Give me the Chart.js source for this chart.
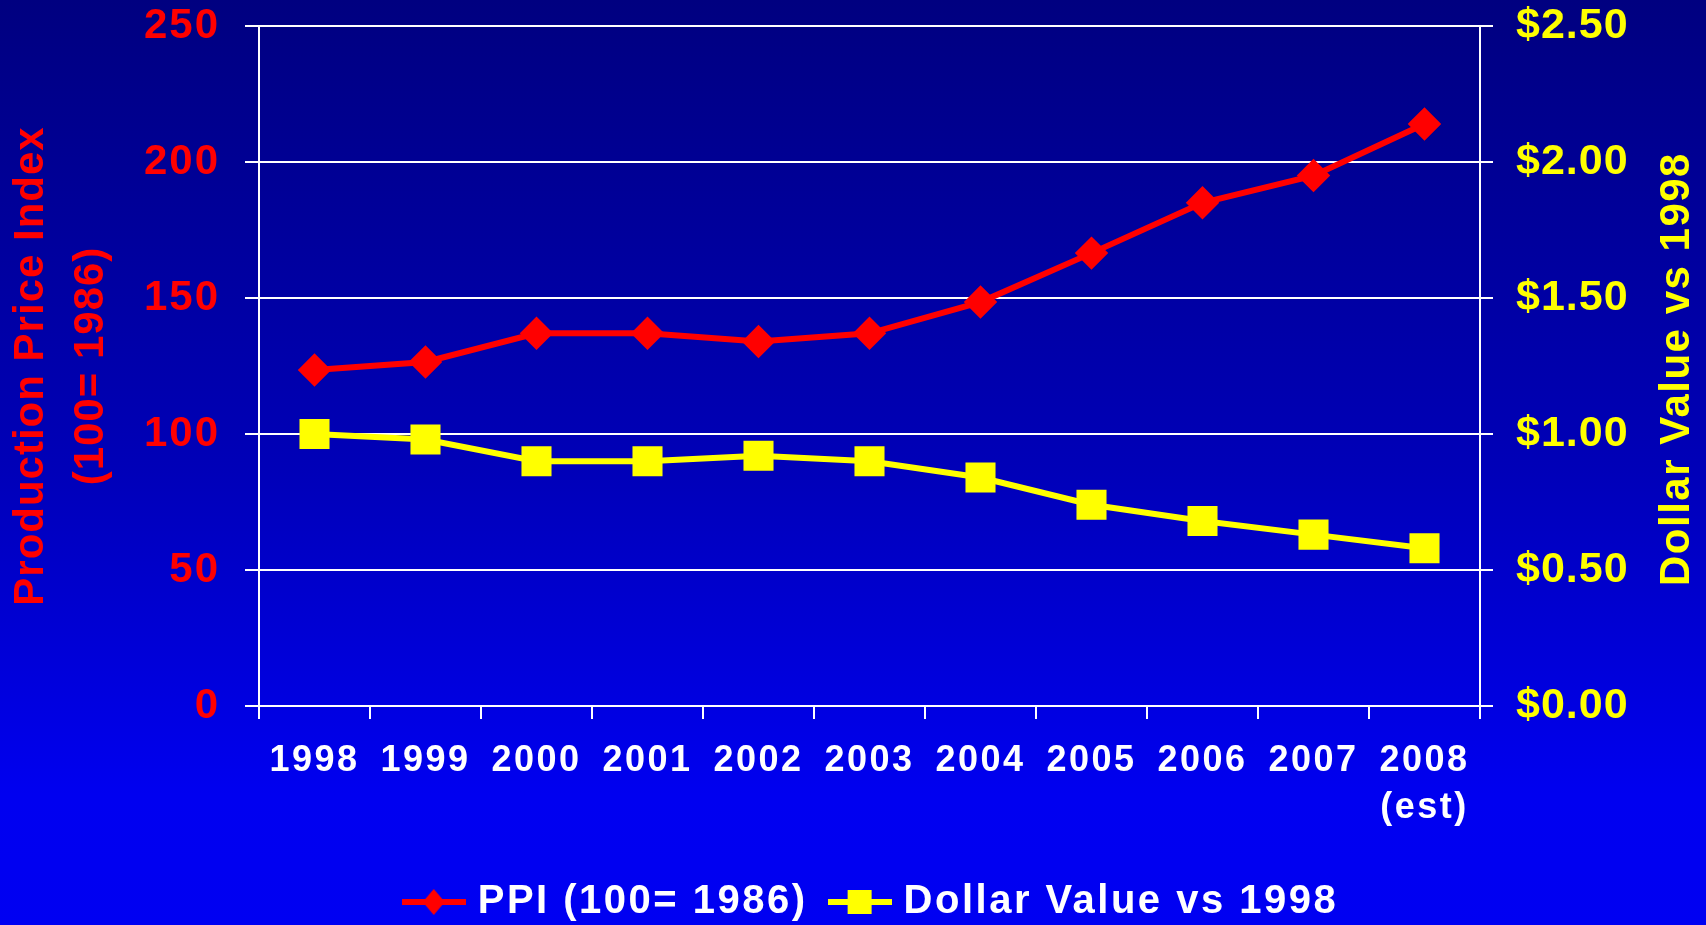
<!DOCTYPE html>
<html>
<head>
<meta charset="utf-8">
<script src="https://cdn.jsdelivr.net/npm/chart.js@4/dist/chart.umd.min.js"></script>
<style>
  html, body { margin: 0; padding: 0; overflow: hidden; }
  body { background: linear-gradient(to bottom, #000080 0%, #0000b8 50%, #0000f0 85%, #0000f2 100%); }
  #wrap { position: relative; width: 1706px; height: 935px; }
</style>
</head>
<body>
<div id="wrap"><canvas id="PriceChart"></canvas></div>
<script>
var years = ["1998", "1999", "2000", "2001", "2002", "2003", "2004", "2005", "2006", "2007", ["2008", "(est)"]];
var ppiValues = [123.5, 126.5, 137, 137, 134, 137, 148.5, 166.5, 185, 195, 214];
var dollarValues = [1.00, 0.98, 0.90, 0.90, 0.92, 0.90, 0.84, 0.74, 0.68, 0.63, 0.58];
var ppiTicks = [0, 50, 100, 150, 200, 250];
var dollarTicks = [0, 0.5, 1, 1.5, 2, 2.5];
var rightTitle = "Dollar Value vs 1998";

var fontName = "'Liberation Sans', Arial, sans-serif";

// little line + marker pictures for the legend
function legendMark(color, shape) {
  var c = document.createElement("canvas");
  c.width = 64;
  c.height = 28;
  var g = c.getContext("2d");
  g.strokeStyle = color;
  g.fillStyle = color;
  g.lineWidth = 6;
  g.beginPath();
  g.moveTo(0, 14);
  g.lineTo(64, 14);
  g.stroke();
  if (shape == "diamond") {
    g.beginPath();
    g.moveTo(32, 1);
    g.lineTo(43, 14);
    g.lineTo(32, 27);
    g.lineTo(21, 14);
    g.closePath();
    g.fill();
  } else {
    g.fillRect(20, 2, 24, 24);
  }
  return c;
}
var ppiMark = legendMark("#ff0000", "diamond");
var dollarMark = legendMark("#ffff00", "square");

// the original text is a bit spread out, canvas letterSpacing does that
function spaced(obj, name, px, ctx, dx) {
  var orig = obj[name];
  obj[name] = function () {
    var old = ctx.letterSpacing;
    ctx.save();
    ctx.letterSpacing = px + "px";
    if (dx) ctx.translate(dx, 0);
    var r = orig.apply(this, arguments);
    ctx.restore();
    ctx.letterSpacing = old;
    return r;
  };
}

var spacingPlugin = {
  id: "spacing",
  beforeUpdate: function (chart) {
    if (chart._spacedDone) return;
    chart._spacedDone = true;
    var ctx = chart.ctx;
    spaced(chart.legend, "fit", 2.5, ctx);
    spaced(chart.legend, "draw", 2.5, ctx, 21);
    spaced(chart.scales.x, "drawLabels", 2.5, ctx);
    spaced(chart.scales.y, "drawLabels", 2, ctx);
    spaced(chart.scales.y, "drawTitle", 1, ctx);
    spaced(chart.scales.y1, "drawLabels", 1, ctx);
  },
  afterDraw: function (chart) {
    // right axis title reads bottom to top like the left one
    var ctx = chart.ctx;
    var area = chart.chartArea;
    ctx.save();
    ctx.letterSpacing = "1.5px";
    ctx.translate(1677, (area.top + area.bottom) / 2 + 3);
    ctx.rotate(-Math.PI / 2);
    ctx.font = "bold 42px " + fontName;
    ctx.fillStyle = "#ffff00";
    ctx.textAlign = "center";
    ctx.textBaseline = "middle";
    ctx.fillText(rightTitle, 0, 0);
    ctx.restore();
  }
};

function fixWidth(w) {
  return function (scale) {
    scale.width = w;
    // keep the top label from pushing the plot down
    scale.paddingTop = 0;
    scale.paddingBottom = 0;
  };
}

new Chart("PriceChart", {
  type: "line",
  data: {
    labels: years,
    datasets: [{
      label: "PPI (100= 1986)",
      data: ppiValues,
      yAxisID: "y",
      borderColor: "#ff0000",
      backgroundColor: "#ff0000",
      borderWidth: 6,
      pointStyle: "rectRot",
      pointRadius: 12.5,
      pointHoverRadius: 12.5,
      tension: 0
    }, {
      label: "Dollar Value vs 1998",
      data: dollarValues,
      yAxisID: "y1",
      borderColor: "#ffff00",
      backgroundColor: "#ffff00",
      borderWidth: 6,
      pointStyle: "rect",
      pointRadius: 17,
      pointHoverRadius: 17,
      tension: 0
    }]
  },
  plugins: [spacingPlugin],
  options: {
    responsive: true,
    maintainAspectRatio: false,
    animation: false,
    layout: { padding: { left: 0, right: 0, top: 26, bottom: 3 } },
    plugins: {
      tooltip: { enabled: false },
      legend: {
        position: "bottom",
        labels: {
          color: "#ffffff",
          font: { family: fontName, size: 40, weight: "bold" },
          usePointStyle: true,
          pointStyleWidth: 48,
          padding: 28,
          generateLabels: function (chart) {
            var items = Chart.defaults.plugins.legend.labels.generateLabels(chart);
            items[0].pointStyle = ppiMark;
            items[1].pointStyle = dollarMark;
            return items;
          }
        }
      }
    },
    scales: {
      x: {
        offset: true,
        grid: { offset: true, drawOnChartArea: false, drawTicks: true, tickLength: 13, color: "#ffffff", lineWidth: 2 },
        border: { color: "#ffffff", width: 2 },
        ticks: {
          color: "#ffffff",
          padding: 19,
          maxRotation: 0,
          autoSkip: false,
          font: { family: fontName, size: 36, weight: "bold", lineHeight: 1.3 }
        },
        afterFit: function (scale) { scale.height = 148; }
      },
      y: {
        position: "left",
        min: 0,
        max: 250,
        afterBuildTicks: function (scale) {
          scale.ticks = ppiTicks.map(function (v) { return { value: v }; });
        },
        grid: { color: "#ffffff", lineWidth: 2, tickLength: 14 },
        border: { color: "#ffffff", width: 2 },
        ticks: {
          color: "#ff0000",
          padding: 25,
          font: { family: fontName, size: 42, weight: "bold" }
        },
        title: {
          display: true,
          text: ["Production Price Index", "(100= 1986)"],
          color: "#ff0000",
          padding: { top: 2, bottom: 0 },
          font: { family: fontName, size: 42, weight: "bold", lineHeight: 1.42 }
        },
        afterFit: fixWidth(259)
      },
      y1: {
        position: "right",
        min: 0,
        max: 2.5,
        afterBuildTicks: function (scale) {
          scale.ticks = dollarTicks.map(function (v) { return { value: v }; });
        },
        grid: { drawOnChartArea: false, color: "#ffffff", lineWidth: 2, tickLength: 13 },
        border: { color: "#ffffff", width: 2 },
        ticks: {
          color: "#ffff00",
          padding: 23,
          font: { family: fontName, size: 43, weight: "bold" },
          callback: function (v) { return "$" + Number(v).toFixed(2); }
        },
        afterFit: fixWidth(226)
      }
    }
  }
});
</script>
</body>
</html>
